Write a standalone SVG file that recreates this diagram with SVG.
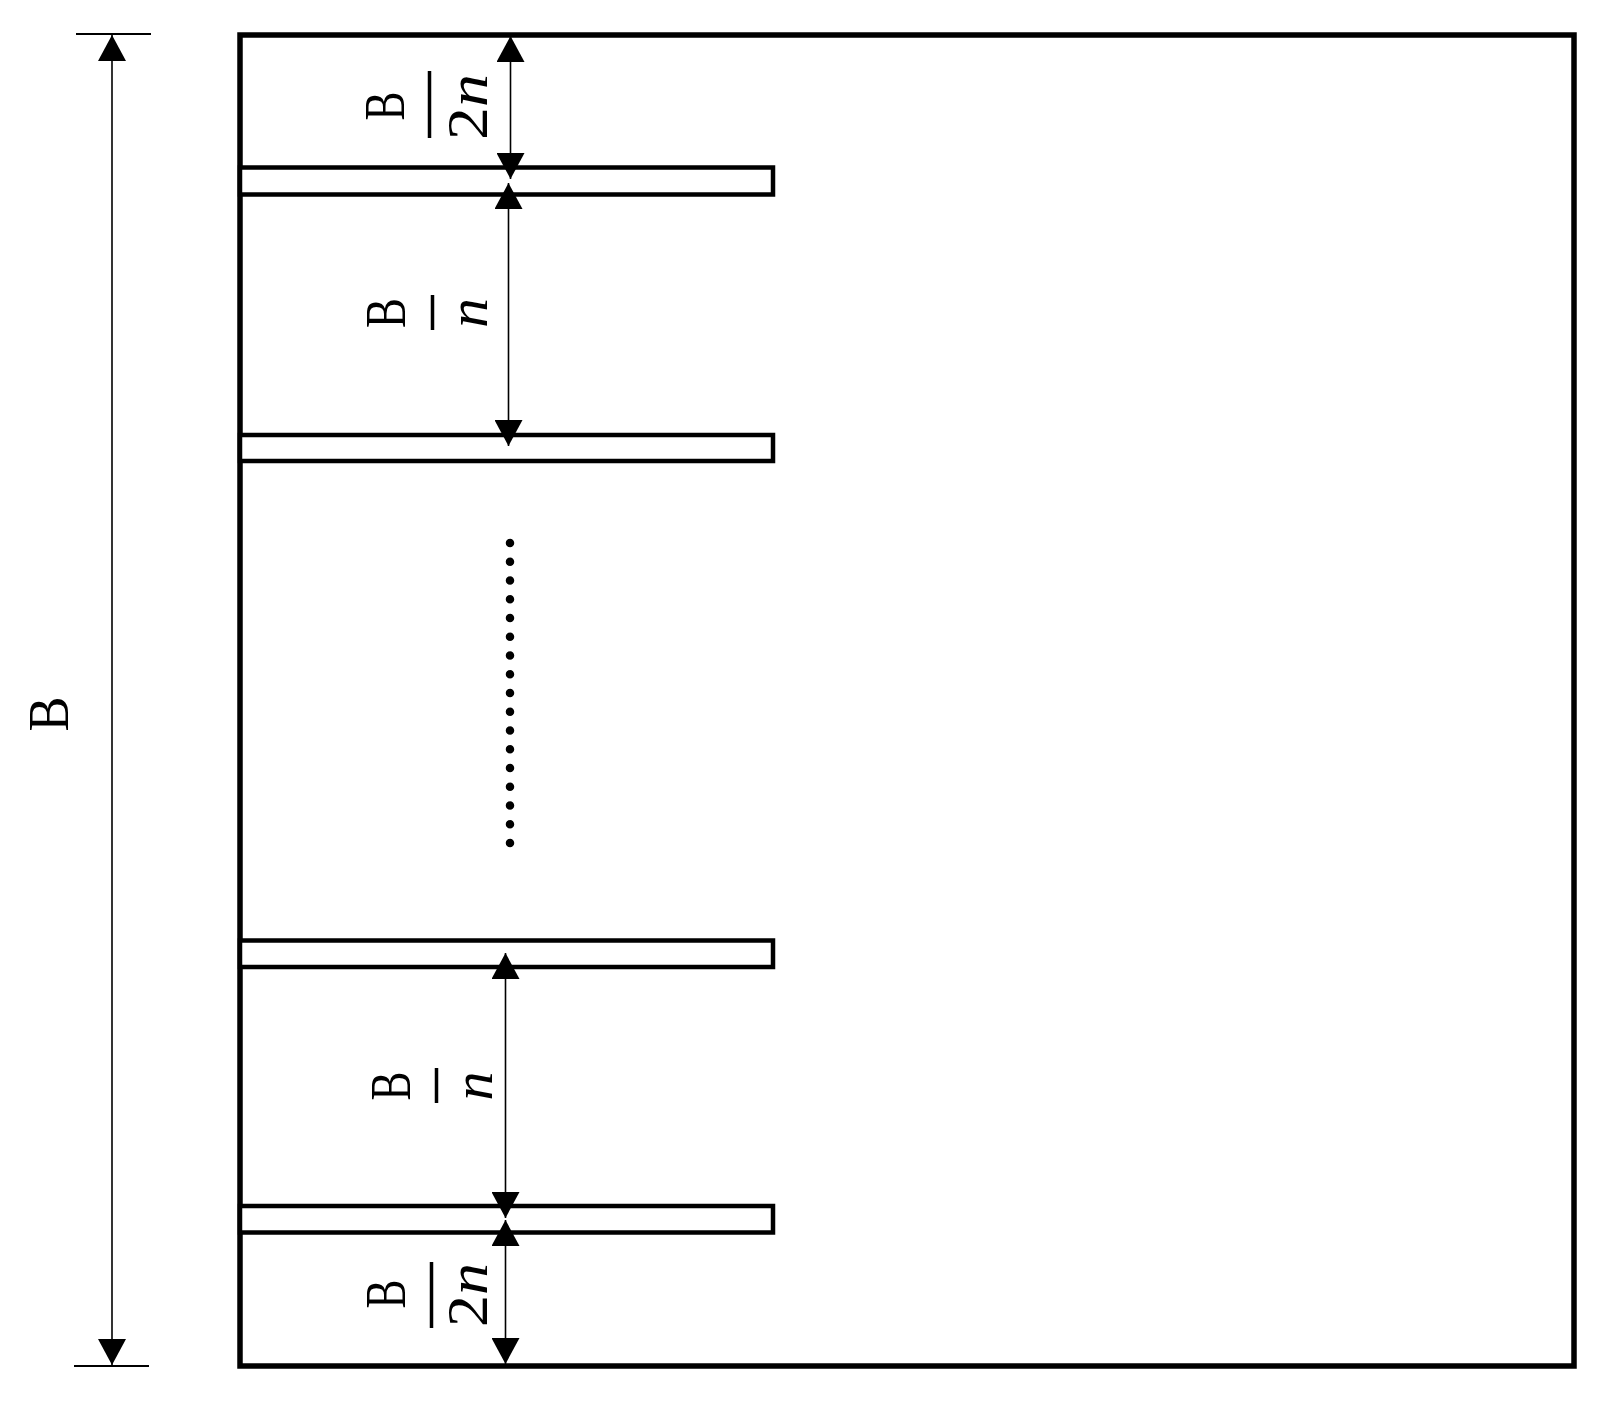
<svg xmlns="http://www.w3.org/2000/svg" width="1611" height="1401" viewBox="0 0 1611 1401">
  <style>
    .frame { fill: #fff; stroke: #000; stroke-width: 5.5; }
    .bar { fill: #fff; stroke: #000; stroke-width: 4.5; }
    .dim { fill: none; stroke: #000; stroke-width: 1.6; }
    .tick { fill: none; stroke: #000; stroke-width: 1.8; }
    .fbar { stroke: #000; stroke-width: 3.5; }
    .lbl { font-family: "Liberation Serif", "Times New Roman", serif; font-size: 57px; fill: #000; text-anchor: middle; }
    .it { font-style: italic; }
    .dots { fill: none; stroke: #000; stroke-width: 8.5; stroke-linecap: round; stroke-dasharray: 0 18.75; }
  </style>
  <defs>
    <marker id="arr" viewBox="0 0 26 28" refX="26" refY="14" markerWidth="26" markerHeight="28" markerUnits="userSpaceOnUse" orient="auto-start-reverse">
      <path d="M0,0 L26,14 L0,28 z" fill="#000"/>
    </marker>
  </defs>

  <g id="plate">
    <rect class="frame" x="240" y="35" width="1334" height="1331"/>
  </g>
  <g id="bar1"><rect class="bar" x="240" y="167.5" width="533" height="27"/></g>
  <g id="bar2"><rect class="bar" x="240" y="435" width="533" height="26"/></g>
  <g id="bar3"><rect class="bar" x="240" y="940.5" width="533" height="26.5"/></g>
  <g id="bar4"><rect class="bar" x="240" y="1206" width="533" height="26.5"/></g>
  <g id="ellipsis">
    <line class="dots" x1="510" y1="543" x2="510" y2="843.2"/>
  </g>

  <g id="connectors">
    <line class="tick" x1="76" y1="34" x2="151" y2="34"/>
    <line class="tick" x1="74" y1="1366" x2="149" y2="1366"/>
    <line class="dim" x1="112" y1="35" x2="112" y2="1365" marker-start="url(#arr)" marker-end="url(#arr)"/>
    <line class="dim" x1="510.5" y1="36" x2="510.5" y2="179" marker-start="url(#arr)" marker-end="url(#arr)"/>
    <line class="dim" x1="508.5" y1="183" x2="508.5" y2="446" marker-start="url(#arr)" marker-end="url(#arr)"/>
    <line class="dim" x1="505.5" y1="953" x2="505.5" y2="1218" marker-start="url(#arr)" marker-end="url(#arr)"/>
    <line class="dim" x1="505.5" y1="1220" x2="505.5" y2="1364" marker-start="url(#arr)" marker-end="url(#arr)"/>
  </g>

  <g id="label-B">
    <text class="lbl" font-size="59" transform="translate(68,714) rotate(-90)" textLength="35" lengthAdjust="spacingAndGlyphs">B</text>
  </g>
  <g id="label-top-B-2n">
    <text class="lbl" transform="translate(404,106) rotate(-90)" textLength="29" lengthAdjust="spacingAndGlyphs">B</text>
    <line class="fbar" x1="429.5" y1="71" x2="429.5" y2="138"/>
    <text class="lbl" transform="translate(487,107) rotate(-90)" textLength="66" lengthAdjust="spacingAndGlyphs">2<tspan class="it">n</tspan></text>
  </g>
  <g id="label-top-B-n">
    <text class="lbl" transform="translate(405,313) rotate(-90)" textLength="30" lengthAdjust="spacingAndGlyphs">B</text>
    <line class="fbar" x1="432.5" y1="295" x2="432.5" y2="330"/>
    <text class="lbl it" transform="translate(487,313) rotate(-90)" textLength="30" lengthAdjust="spacingAndGlyphs">n</text>
  </g>
  <g id="label-bottom-B-n">
    <text class="lbl" transform="translate(410,1086) rotate(-90)" textLength="29" lengthAdjust="spacingAndGlyphs">B</text>
    <line class="fbar" x1="436.5" y1="1068" x2="436.5" y2="1103"/>
    <text class="lbl it" transform="translate(492,1086) rotate(-90)" textLength="29" lengthAdjust="spacingAndGlyphs">n</text>
  </g>
  <g id="label-bottom-B-2n">
    <text class="lbl" transform="translate(405,1294) rotate(-90)" textLength="29" lengthAdjust="spacingAndGlyphs">B</text>
    <line class="fbar" x1="431.5" y1="1262" x2="431.5" y2="1328"/>
    <text class="lbl" transform="translate(487,1295) rotate(-90)" textLength="64" lengthAdjust="spacingAndGlyphs">2<tspan class="it">n</tspan></text>
  </g>
</svg>
